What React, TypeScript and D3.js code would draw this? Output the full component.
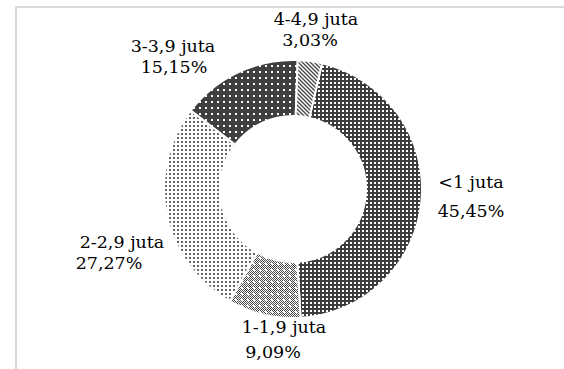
import React from "react";
import * as d3 from "d3";

// Income brackets and their shares (percent)
const categories = ["<1 juta", "1-1,9 juta", "2-2,9 juta", "3-3,9 juta", "4-4,9 juta"];
const shares = [45.45, 9.09, 27.27, 15.15, 3.03];
const shareLabels = ["45,45%", "9,09%", "27,27%", "15,15%", "3,03%"];

const W = 564;
const H = 369;
const cx = 293;
const cy = 189;
const outerR = 129;
const innerR = 73;
const startDeg = 13;

// Label placement: [x, baseline] for the category line and the percent line
const namePos: [number, number][] = [
  [471, 188],
  [284, 333],
  [122, 248],
  [173, 52],
  [316, 25],
];
const pctPos: [number, number][] = [
  [471, 217],
  [273, 358],
  [109, 269],
  [174, 73],
  [310, 46],
];

const patternIds = ["p-lt1", "p-1", "p-2", "p-3", "p-4"];

export default function App() {
  const pie = d3
    .pie<number>()
    .sort(null)
    .value((d) => d)
    .startAngle((startDeg * Math.PI) / 180)
    .endAngle((startDeg * Math.PI) / 180 + 2 * Math.PI);
  const arcs = pie(shares);
  const arc = d3.arc<d3.PieArcDatum<number>>().innerRadius(innerR).outerRadius(outerR);

  return (
    <svg
      width={W}
      height={H}
      style={{ position: "absolute", left: 0, top: 0, background: "#fff" }}
      fontFamily="'DejaVu Serif', serif"
    >
      <defs>
        {/* dark field with white square grid */}
        <pattern id="p-lt1" width={4} height={4} patternUnits="userSpaceOnUse">
          <rect width={4} height={4} fill="#3c3c3c" />
          <rect x={1} y={1} width={2} height={2} fill="#ffffff" />
        </pattern>
        {/* mid-grey checker with white specks */}
        <pattern id="p-1" width={6} height={6} patternUnits="userSpaceOnUse">
          <rect width={6} height={6} fill="#ffffff" />
          {[0, 1, 2, 3, 4, 5].flatMap((i) =>
            [0, 1, 2, 3, 4, 5]
              .filter((j) => (i + j) % 2 === 0)
              .map((j) => <rect key={`${i}-${j}`} x={i} y={j} width={1} height={1} fill="#4a4a4a" />)
          )}
          <rect x={2} y={2} width={2} height={2} fill="#ffffff" />
        </pattern>
        {/* light dotted */}
        <pattern id="p-2" width={4} height={4} patternUnits="userSpaceOnUse">
          <rect width={4} height={4} fill="#ffffff" />
          <rect x={0} y={0} width={2} height={2} fill="#666666" />
        </pattern>
        {/* dark field with sparse white dots */}
        <pattern id="p-3" width={6} height={6} patternUnits="userSpaceOnUse">
          <rect width={6} height={6} fill="#3f3f3f" />
          <rect x={2} y={2} width={2} height={2} fill="#ffffff" />
        </pattern>
        {/* wide downward diagonal */}
        <pattern id="p-4" width={4} height={4} patternUnits="userSpaceOnUse">
          <rect width={4} height={4} fill="#ffffff" />
          <path d="M-1,-1 L5,5 M-1,3 L1,5 M3,-1 L5,1" stroke="#444" strokeWidth={1.3} />
        </pattern>
      </defs>

      {/* chart area frame */}
      <path d={`M16,${H} L16,7 L${W},7`} fill="none" stroke="#d9d9d9" strokeWidth={2} />

      <g transform={`translate(${cx},${cy})`}>
        {arcs.map((a, i) => (
          <path
            key={categories[i]}
            d={arc(a) ?? ""}
            fill={`url(#${patternIds[i]})`}
            stroke="#ffffff"
            strokeWidth={2}
          />
        ))}
      </g>

      {categories.map((c, i) => (
        <g key={c} fontSize={17.5} fill="#000" textAnchor="middle">
          <text x={namePos[i][0]} y={namePos[i][1]}>
            {c}
          </text>
          <text x={pctPos[i][0]} y={pctPos[i][1]}>
            {shareLabels[i]}
          </text>
        </g>
      ))}
    </svg>
  );
}
